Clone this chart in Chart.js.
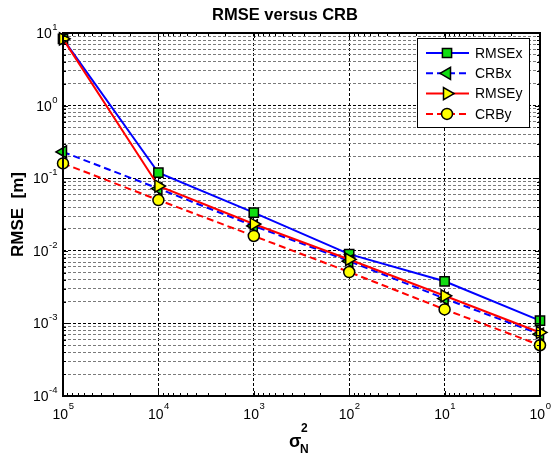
<!DOCTYPE html>
<html>
<head>
<meta charset="utf-8">
<script src="https://cdn.jsdelivr.net/npm/chart.js@4/dist/chart.umd.min.js"></script>
<style>
html, body { margin: 0; padding: 0; background: #fff; }
</style>
</head>
<body>
<canvas id="c" width="552" height="457"></canvas>
<script>
// 数据
const noiseVar = [1e5, 1e4, 1e3, 1e2, 1e1, 1];
const rmseX = [8.3, 0.119, 0.0335, 0.0090, 0.0038, 0.00109];
const crbX  = [0.23, 0.072, 0.022, 0.0072, 0.0022, 0.00071];
const rmseY = [8.3, 0.078, 0.0234, 0.0076, 0.0024, 0.00075];
const crbY  = [0.16, 0.050, 0.016, 0.0051, 0.00156, 0.00050];
const xDecades = [0, 1, 2, 3, 4, 5];
const yDecades = [-4, -3, -2, -1, 0, 1];

const FONT = '"Liberation Sans", Arial, sans-serif';

// 对数刻度（含次刻度）
function logTicks(decades) {
    const out = [];
    decades.forEach((d, i) => {
        out.push({ value: Math.pow(10, d), major: true, exp: d });
        if (i < decades.length - 1) {
            for (let m = 2; m <= 9; m++) out.push({ value: m * Math.pow(10, d), major: false });
        }
    });
    return out;
}

function toPoints(ys) {
    return noiseVar.map((x, i) => ({ x: x, y: ys[i] }));
}

// 10^n 标签
function drawPow(ctx, exp, x, y, mode, expOff) {
    ctx.font = '14px ' + FONT;
    const bw = ctx.measureText('10').width;
    ctx.font = '9.5px ' + FONT;
    const ew = ctx.measureText(String(exp)).width;
    let left;
    if (mode === 'right') left = x - bw - ew;
    else left = x - (bw + ew) / 2;
    ctx.fillStyle = '#000';
    ctx.textAlign = 'left';
    ctx.textBaseline = 'alphabetic';
    ctx.font = '14px ' + FONT;
    ctx.fillText('10', left, y);
    ctx.font = '9.5px ' + FONT;
    ctx.fillText(String(exp), left + bw + 0.5, y - expOff);
}

const axesPlugin = {
    id: 'matlabAxes',
    afterDraw(chart) {
        const ctx = chart.ctx;
        const a = chart.chartArea;
        const xs = chart.scales.x, ys = chart.scales.y;
        ctx.save();

        // 刻度线
        ctx.strokeStyle = '#000';
        ctx.lineWidth = 1;
        ctx.beginPath();
        xs.ticks.forEach(t => {
            const px = Math.round(xs.getPixelForValue(t.value)) + 0.5;
            const len = t.major ? 5 : 3;
            ctx.moveTo(px, a.bottom); ctx.lineTo(px, a.bottom - len);
            ctx.moveTo(px, a.top); ctx.lineTo(px, a.top + len);
        });
        ys.ticks.forEach(t => {
            const py = Math.round(ys.getPixelForValue(t.value)) + 0.5;
            const len = t.major ? 5 : 3;
            ctx.moveTo(a.left, py); ctx.lineTo(a.left + len, py);
            ctx.moveTo(a.right, py); ctx.lineTo(a.right - len, py);
        });
        ctx.stroke();

        // 边框
        ctx.lineWidth = 2;
        ctx.strokeRect(a.left, a.top, a.right - a.left, a.bottom - a.top);

        // 刻度标签
        xs.ticks.filter(t => t.major).forEach(t => {
            drawPow(ctx, t.exp, xs.getPixelForValue(t.value), a.bottom + 23, 'center', 10);
        });
        ys.ticks.filter(t => t.major).forEach(t => {
            drawPow(ctx, t.exp, a.left - 6, ys.getPixelForValue(t.value) + 5, 'right', 8);
        });

        // 标题
        ctx.fillStyle = '#000';
        ctx.textAlign = 'center';
        ctx.textBaseline = 'middle';
        ctx.font = 'bold 16.5px ' + FONT;
        ctx.fillText('RMSE versus CRB', 285, 15);

        // y 轴标题
        ctx.save();
        ctx.translate(18, (a.top + a.bottom) / 2);
        ctx.rotate(-Math.PI / 2);
        ctx.font = 'bold 17px ' + FONT;
        ctx.fillText('RMSE  [m]', 0, 0);
        ctx.restore();

        // x 轴标题 σ_N^2
        ctx.textBaseline = 'alphabetic';
        ctx.textAlign = 'left';
        ctx.font = 'bold 18px ' + FONT;
        ctx.fillText('σ', 289, 447);
        ctx.font = 'bold 12px ' + FONT;
        ctx.fillText('2', 301, 432);
        ctx.fillText('N', 300, 453);

        // 图例
        const lx = 417, ly = 38, lw = 112, lh = 89;
        ctx.fillStyle = '#fff';
        ctx.fillRect(lx, ly, lw, lh);
        ctx.lineWidth = 1;
        ctx.strokeStyle = '#000';
        ctx.strokeRect(lx + 0.5, ly + 0.5, lw, lh);
        chart.data.datasets.forEach((ds, i) => {
            const y = ly + 15 + i * 20.3;
            ctx.save();
            ctx.strokeStyle = ds.borderColor;
            ctx.lineWidth = ds.borderWidth;
            ctx.setLineDash(ds.borderDash || []);
            ctx.beginPath();
            ctx.moveTo(lx + 9, y); ctx.lineTo(lx + 52, y);
            ctx.stroke();
            ctx.setLineDash([]);
            ctx.fillStyle = ds.pointBackgroundColor;
            ctx.strokeStyle = ds.pointBorderColor;
            ctx.lineWidth = ds.pointBorderWidth;
            Chart.helpers.drawPoint(ctx, {
                pointStyle: ds.pointStyle,
                radius: ds.pointRadius,
                rotation: ds.pointRotation || 0,
                borderWidth: ds.pointBorderWidth
            }, lx + 30, y);
            ctx.restore();
            ctx.fillStyle = '#000';
            ctx.textAlign = 'left';
            ctx.textBaseline = 'middle';
            ctx.font = '14px ' + FONT;
            ctx.fillText(ds.label, lx + 58, y + 1);
        });

        ctx.restore();
    }
};

const chart = new Chart(document.getElementById('c').getContext('2d'), {
    type: 'line',
    data: {
        datasets: [
            {
                label: 'RMSEx', data: toPoints(rmseX), order: 3,
                borderColor: '#0000ff', borderWidth: 2,
                pointStyle: 'rect', pointRadius: 6.5,
                pointBackgroundColor: '#11dd11', pointBorderColor: '#000', pointBorderWidth: 1.5
            },
            {
                label: 'CRBx', data: toPoints(crbX), order: 2,
                borderColor: '#0000ff', borderWidth: 2, borderDash: [7, 4],
                pointStyle: 'triangle', pointRotation: -90, pointRadius: 7,
                pointBackgroundColor: '#11dd11', pointBorderColor: '#000', pointBorderWidth: 1.5
            },
            {
                label: 'RMSEy', data: toPoints(rmseY), order: 1,
                borderColor: '#ff0000', borderWidth: 2,
                pointStyle: 'triangle', pointRotation: 90, pointRadius: 7,
                pointBackgroundColor: '#ffff00', pointBorderColor: '#000', pointBorderWidth: 1.5
            },
            {
                label: 'CRBy', data: toPoints(crbY), order: 0,
                borderColor: '#ff0000', borderWidth: 2, borderDash: [7, 4],
                pointStyle: 'circle', pointRadius: 5.5,
                pointBackgroundColor: '#ffff00', pointBorderColor: '#000', pointBorderWidth: 1.5
            }
        ]
    },
    options: {
        responsive: false,
        animation: false,
        clip: false,
        layout: { padding: { left: 63, right: 12, top: 33, bottom: 61 } },
        plugins: {
            legend: { display: false },
            tooltip: { enabled: false },
            title: { display: false }
        },
        elements: { line: { tension: 0 } },
        scales: {
            x: {
                type: 'logarithmic',
                reverse: true,
                min: 1, max: 1e5,
                afterBuildTicks: s => { s.ticks = logTicks(xDecades); },
                ticks: { display: false },
                border: { display: false, dash: [3, 2] },
                grid: {
                    drawTicks: false,
                    color: c => (c.tick && c.tick.major) ? '#000' : 'rgba(0,0,0,0)',
                    lineWidth: 1
                },
                title: { display: false }
            },
            y: {
                type: 'logarithmic',
                min: 1e-4, max: 10,
                afterBuildTicks: s => { s.ticks = logTicks(yDecades); },
                ticks: { display: false },
                border: { display: false, dash: [3, 2] },
                grid: {
                    drawTicks: false,
                    color: c => (c.tick && c.tick.major) ? '#000' : '#7a7a7a',
                    lineWidth: 1
                },
                title: { display: false }
            }
        }
    },
    plugins: [axesPlugin]
});
</script>
</body>
</html>
